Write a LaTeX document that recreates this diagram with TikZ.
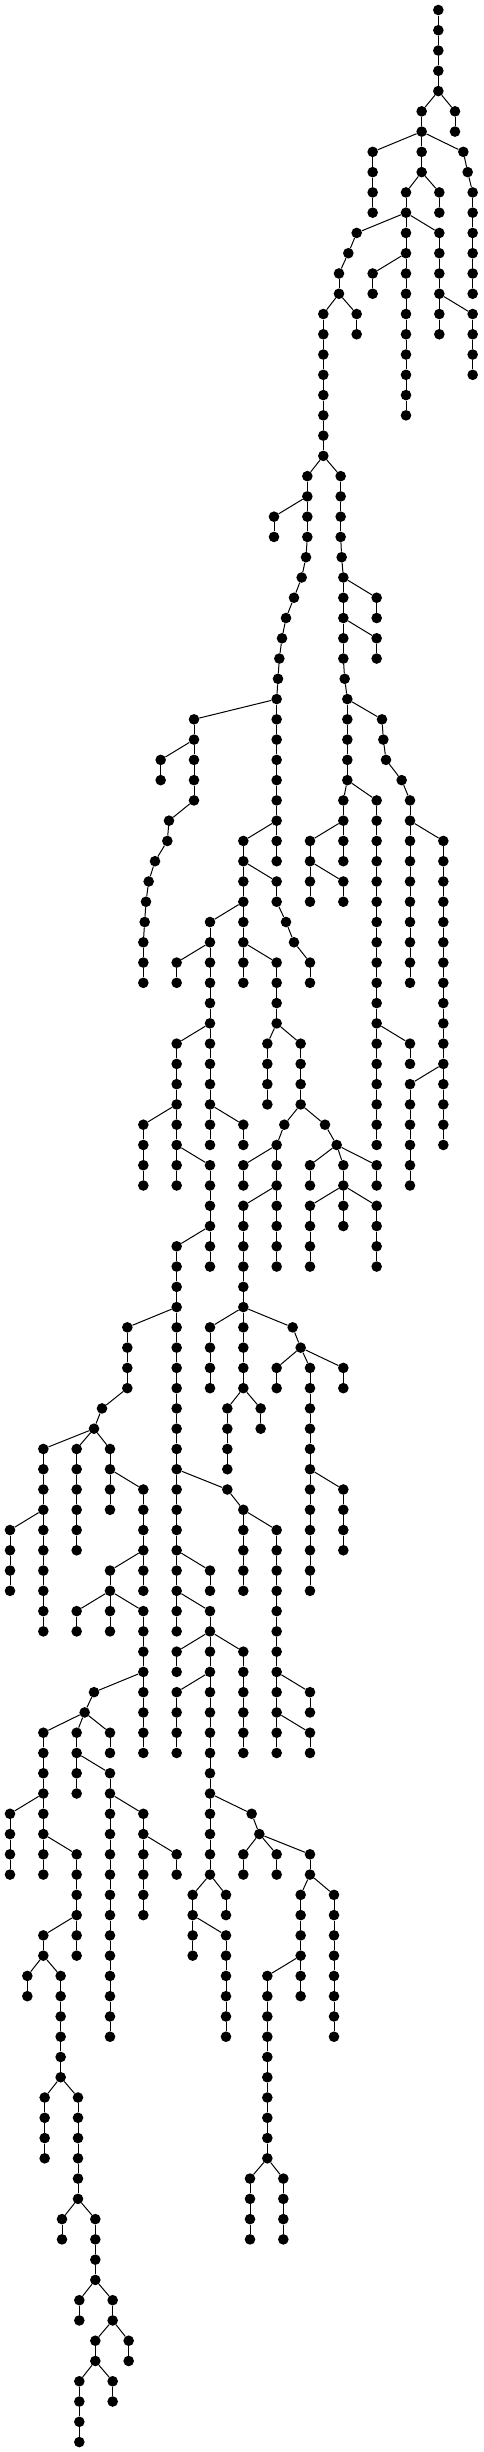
\documentclass[tikz,border=0pt]{standalone}
\tikzset{
  dot/.style={circle,fill=black,draw=none,inner sep=0pt,minimum size=10.6pt},
  edge/.style={line width=1pt,black}
}
\newcommand\Lv[2]{%
  \pgfmathtruncatemacro\pl{#1-1}%
  \foreach \c/\p in {#2}{%
    \node[dot] (v#1c\c) at ({\c/3},{10+20.267*#1}) {};
    \draw[edge] (v\pl c\p) -- (v#1c\c);
  }%
}
\begin{document}
\begin{tikzpicture}[x=1pt,y=-1pt]
\useasboundingbox (0,0) rectangle (483,2452);
\node[dot] (v0c1315) at ({1315/3},10) {};
\Lv{1}{1315/1315}
\Lv{2}{1315/1315}
\Lv{3}{1315/1315}
\Lv{4}{1315/1315}
\Lv{5}{1265/1315,1365/1315}
\Lv{6}{1265/1265,1365/1365}
\Lv{7}{1118/1265,1265/1265,1390/1265}
\Lv{8}{1118/1118,1265/1265,1403/1390}
\Lv{9}{1118/1118,1218/1265,1318/1265,1418/1403}
\Lv{10}{1118/1118,1218/1218,1318/1318,1418/1418}
\Lv{11}{1070/1218,1218/1218,1318/1218,1418/1418}
\Lv{12}{1045/1070,1218/1218,1318/1318,1418/1418}
\Lv{13}{1017/1045,1118/1218,1218/1218,1318/1318,1418/1418}
\Lv{14}{1017/1017,1118/1118,1218/1218,1318/1318,1418/1418}
\Lv{15}{970/1017,1070/1017,1218/1218,1318/1318,1418/1318}
\Lv{16}{970/970,1070/1070,1218/1218,1318/1318,1418/1418}
\Lv{17}{970/970,1218/1218,1418/1418}
\Lv{18}{970/970,1218/1218,1418/1418}
\Lv{19}{970/970,1218/1218}
\Lv{20}{970/970,1218/1218}
\Lv{21}{970/970}
\Lv{22}{970/970}
\Lv{23}{922/970,1022/970}
\Lv{24}{922/922,1022/1022}
\Lv{25}{822/922,922/922,1022/1022}
\Lv{26}{822/822,922/922,1022/1022}
\Lv{27}{918/922,1025/1022}
\Lv{28}{905/918,1030/1025}
\Lv{29}{882/905,1030/1030,1130/1030}
\Lv{30}{858/882,1030/1030,1130/1130}
\Lv{31}{846/858,1030/1030,1130/1030}
\Lv{32}{838/846,1030/1030,1130/1130}
\Lv{33}{834/838,1034/1030}
\Lv{34}{830/834,1042/1034}
\Lv{35}{582/830,830/830,1042/1042,1146/1042}
\Lv{36}{582/582,830/830,1042/1042,1150/1146}
\Lv{37}{482/582,582/582,830/830,1042/1042,1158/1150}
\Lv{38}{482/482,582/582,830/830,1042/1042,1205/1158}
\Lv{39}{582/582,830/830,1030/1042,1130/1042,1230/1205}
\Lv{40}{507/582,830/830,1030/1030,1130/1130,1230/1230}
\Lv{41}{502/507,730/830,830/830,930/1030,1030/1030,1130/1130,1230/1230,1330/1230}
\Lv{42}{465/502,730/730,830/830,930/930,1030/1030,1130/1130,1230/1230,1330/1330}
\Lv{43}{446/465,730/730,830/730,930/930,1030/930,1130/1130,1230/1230,1330/1330}
\Lv{44}{438/446,730/730,830/830,930/930,1030/1030,1130/1130,1230/1230,1330/1330}
\Lv{45}{434/438,630/730,730/730,858/830,1130/1130,1230/1230,1330/1330}
\Lv{46}{430/434,630/630,730/730,882/858,1130/1130,1230/1230,1330/1330}
\Lv{47}{430/430,530/630,630/630,730/730,830/730,930/882,1130/1130,1230/1230,1330/1330}
\Lv{48}{430/430,530/530,630/630,730/730,830/830,930/930,1130/1130,1230/1230,1330/1330}
\Lv{49}{630/630,830/830,1130/1130,1330/1330}
\Lv{50}{630/630,830/830,1130/1130,1330/1330}
\Lv{51}{530/630,630/630,802/830,902/830,1130/1130,1230/1130,1330/1330}
\Lv{52}{530/530,630/630,802/802,902/902,1130/1130,1230/1230,1330/1330}
\Lv{53}{530/530,630/630,802/802,902/902,1130/1130,1230/1330,1330/1330}
\Lv{54}{530/530,630/630,802/802,902/902,1130/1130,1230/1230,1330/1330}
\Lv{55}{430/530,530/530,630/630,730/630,853/902,975/902,1130/1130,1230/1230,1330/1330}
\Lv{56}{430/430,530/530,630/630,730/730,830/853,1010/975,1130/1130,1230/1230,1330/1330}
\Lv{57}{430/430,530/530,630/530,730/830,830/830,930/1010,1030/1010,1130/1010,1230/1230}
\Lv{58}{430/430,530/530,630/630,730/730,830/830,930/930,1030/1030,1130/1130,1230/1230}
\Lv{59}{630/630,730/830,830/830,930/1030,1030/1030,1130/1030}
\Lv{60}{630/630,730/730,830/830,930/930,1030/1030,1130/1130}
\Lv{61}{530/630,630/630,730/730,830/830,930/930,1130/1130}
\Lv{62}{530/530,630/630,730/730,830/830,930/930,1130/1130}
\Lv{63}{530/530,730/730}
\Lv{64}{530/530,730/730}
\Lv{65}{382/530,530/530,630/730,730/730,878/730}
\Lv{66}{382/382,530/530,630/630,730/730,902/878}
\Lv{67}{382/382,530/530,630/630,730/730,830/902,930/902,1030/902}
\Lv{68}{382/382,530/530,630/630,730/730,830/830,930/930,1030/1030}
\Lv{69}{306/382,530/530,682/730,782/730,930/930}
\Lv{70}{282/306,530/530,682/682,782/782,930/930}
\Lv{71}{130/282,230/282,330/282,530/530,682/682,930/930}
\Lv{72}{130/130,230/230,330/330,530/530,682/682,930/930}
\Lv{73}{130/130,230/230,330/330,430/330,530/530,682/530,930/930,1030/930}
\Lv{74}{130/130,230/230,330/330,430/430,530/530,730/682,930/930,1030/1030}
\Lv{75}{30/130,130/130,230/230,430/430,530/530,730/730,830/730,930/930,1030/1030}
\Lv{76}{30/30,130/130,230/230,430/430,530/530,730/730,830/830,930/930,1030/1030}
\Lv{77}{30/30,130/130,330/430,430/430,530/530,630/530,730/730,830/830,930/930}
\Lv{78}{30/30,130/130,330/330,430/430,530/530,630/630,730/730,830/830,930/930}
\Lv{79}{130/130,230/330,330/330,430/330,530/530,630/530,830/830}
\Lv{80}{130/130,230/230,330/330,430/430,530/530,630/630,830/830}
\Lv{81}{430/430,530/630,630/630,730/630,830/830}
\Lv{82}{430/430,530/530,630/630,730/730,830/830}
\Lv{83}{282/430,430/430,530/630,630/630,730/730,830/830,930/830}
\Lv{84}{254/282,430/430,530/530,630/630,730/730,830/830,930/930}
\Lv{85}{130/254,230/254,330/254,430/430,530/530,630/630,730/730,830/830,930/830}
\Lv{86}{130/130,230/230,330/330,430/430,530/530,630/630,730/730,830/830,930/930}
\Lv{87}{130/130,230/230,330/230,630/630}
\Lv{88}{130/130,230/230,330/330,630/630}
\Lv{89}{30/130,130/130,330/330,430/330,630/630,755/630}
\Lv{90}{30/30,130/130,330/330,430/430,630/630,778/755}
\Lv{91}{30/30,130/130,230/130,330/330,430/430,530/430,630/630,730/778,830/778,930/778}
\Lv{92}{30/30,130/130,230/230,330/330,430/430,530/530,630/630,730/730,830/830,930/930}
\Lv{93}{230/230,330/330,430/430,578/630,678/630,902/930,1002/930}
\Lv{94}{230/230,330/330,430/430,578/578,678/678,902/902,1002/1002}
\Lv{95}{130/230,230/230,330/330,578/578,678/578,902/902,1002/1002}
\Lv{96}{130/130,230/230,330/330,578/578,678/678,902/902,1002/1002}
\Lv{97}{82/130,182/130,330/330,678/678,802/902,902/902,1002/1002}
\Lv{98}{82/82,182/182,330/330,678/678,802/802,902/902,1002/1002}
\Lv{99}{182/182,330/330,678/678,802/802,1002/1002}
\Lv{100}{182/182,330/330,678/678,802/802,1002/1002}
\Lv{101}{182/182,802/802}
\Lv{102}{182/182,802/802}
\Lv{103}{134/182,234/182,802/802}
\Lv{104}{134/134,234/234,802/802}
\Lv{105}{134/134,234/234,802/802}
\Lv{106}{134/134,234/234,802/802}
\Lv{107}{234/234,750/802,850/802}
\Lv{108}{234/234,750/750,850/850}
\Lv{109}{186/234,286/234,750/750,850/850}
\Lv{110}{186/186,286/286,750/750,850/850}
\Lv{111}{286/286}
\Lv{112}{286/286}
\Lv{113}{238/286,338/286}
\Lv{114}{238/238,338/338}
\Lv{115}{286/338,386/338}
\Lv{116}{286/286,386/386}
\Lv{117}{238/286,338/286}
\Lv{118}{238/238,338/338}
\Lv{119}{238/238}
\Lv{120}{238/238}
\end{tikzpicture}
\end{document}
